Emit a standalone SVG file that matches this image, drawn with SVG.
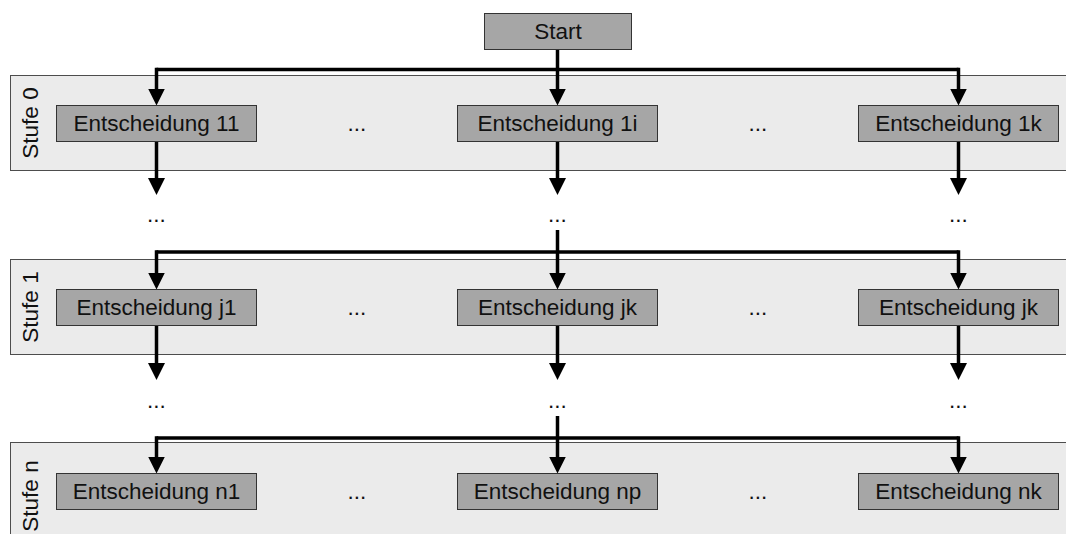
<svg xmlns="http://www.w3.org/2000/svg" width="1066" height="534" viewBox="0 0 1066 534">
  <style>
    .band { fill: #ebebeb; stroke: #4d4d4d; stroke-width: 1; }
    .box { fill: #a6a6a6; stroke: #333333; stroke-width: 1; }
    .lbl { font-family: "Liberation Sans", Arial, sans-serif; font-size: 22.5px; fill: #111111; text-anchor: middle; }
    .wire { fill: none; stroke: #000000; stroke-width: 3.5; stroke-linejoin: miter; }
    .arr { marker-end: url(#head); }
  </style>
  <defs>
    <marker id="head" markerUnits="userSpaceOnUse" markerWidth="17" markerHeight="17" viewBox="0 0 17 17" refX="7" refY="8.5" orient="auto">
      <path d="M0,0 L17,8.5 L0,17 Z" fill="#000000"/>
    </marker>
  </defs>

  <!-- stage bands -->
  <g id="stufe0">
    <rect class="band" x="10.5" y="75.5" width="1060" height="95"/>
    <text class="lbl" transform="translate(38 123) rotate(-90)">Stufe 0</text>
    <text class="lbl" x="357" y="131">...</text>
    <text class="lbl" x="758" y="131">...</text>
  </g>
  <g id="stufe1">
    <rect class="band" x="10.5" y="259.5" width="1060" height="95"/>
    <text class="lbl" transform="translate(38 307) rotate(-90)">Stufe 1</text>
    <text class="lbl" x="357" y="315">...</text>
    <text class="lbl" x="758" y="315">...</text>
  </g>
  <g id="stufen">
    <rect class="band" x="10.5" y="442.5" width="1060" height="100"/>
    <text class="lbl" transform="translate(38 496) rotate(-90)">Stufe n</text>
    <text class="lbl" x="357" y="499">...</text>
    <text class="lbl" x="758" y="499">...</text>
  </g>

  <!-- gap markers between stages -->
  <g id="gaps">
    <text class="lbl" x="156.5" y="222">...</text>
    <text class="lbl" x="557.5" y="222">...</text>
    <text class="lbl" x="958.5" y="222">...</text>
    <text class="lbl" x="156.5" y="408">...</text>
    <text class="lbl" x="557.5" y="408">...</text>
    <text class="lbl" x="958.5" y="408">...</text>
  </g>

  <!-- connectors -->
  <g id="connectors">
    <!-- start fan-out -->
    <path class="wire arr" d="M557.5,49.5 V95.5"/>
    <path class="wire" d="M156.5,69.5 H958.5"/>
    <path class="wire arr" d="M156.5,67.75 V95.5"/>
    <path class="wire arr" d="M958.5,67.75 V95.5"/>
    <!-- stage 0 outputs -->
    <path class="wire arr" d="M156.5,141.5 V185"/>
    <path class="wire arr" d="M557.5,141.5 V185"/>
    <path class="wire arr" d="M958.5,141.5 V185"/>
    <!-- stage 1 fan-out -->
    <path class="wire arr" d="M557.5,230 V279.5"/>
    <path class="wire" d="M156.5,252 H958.5"/>
    <path class="wire arr" d="M156.5,250.25 V279.5"/>
    <path class="wire arr" d="M958.5,250.25 V279.5"/>
    <!-- stage 1 outputs -->
    <path class="wire arr" d="M156.5,325.5 V370"/>
    <path class="wire arr" d="M557.5,325.5 V370"/>
    <path class="wire arr" d="M958.5,325.5 V370"/>
    <!-- stage n fan-out -->
    <path class="wire arr" d="M557.5,416 V463.5"/>
    <path class="wire" d="M156.5,438 H958.5"/>
    <path class="wire arr" d="M156.5,436.25 V463.5"/>
    <path class="wire arr" d="M958.5,436.25 V463.5"/>
  </g>

  <!-- nodes -->
  <g id="start">
    <rect class="box" x="484.5" y="13.5" width="147" height="36"/>
    <text class="lbl" x="558" y="39">Start</text>
  </g>
  <g id="e11">
    <rect class="box" x="56.5" y="105.5" width="200" height="36"/>
    <text class="lbl" x="156.5" y="131">Entscheidung 11</text>
  </g>
  <g id="e1i">
    <rect class="box" x="457.5" y="105.5" width="200" height="36"/>
    <text class="lbl" x="557.5" y="131">Entscheidung 1i</text>
  </g>
  <g id="e1k">
    <rect class="box" x="858.5" y="105.5" width="200" height="36"/>
    <text class="lbl" x="958.5" y="131">Entscheidung 1k</text>
  </g>
  <g id="ej1">
    <rect class="box" x="56.5" y="289.5" width="200" height="36"/>
    <text class="lbl" x="156.5" y="315">Entscheidung j1</text>
  </g>
  <g id="ejk-mid">
    <rect class="box" x="457.5" y="289.5" width="200" height="36"/>
    <text class="lbl" x="557.5" y="315">Entscheidung jk</text>
  </g>
  <g id="ejk-right">
    <rect class="box" x="858.5" y="289.5" width="200" height="36"/>
    <text class="lbl" x="958.5" y="315">Entscheidung jk</text>
  </g>
  <g id="en1">
    <rect class="box" x="56.5" y="473.5" width="200" height="36"/>
    <text class="lbl" x="156.5" y="499">Entscheidung n1</text>
  </g>
  <g id="enp">
    <rect class="box" x="457.5" y="473.5" width="200" height="36"/>
    <text class="lbl" x="557.5" y="499">Entscheidung np</text>
  </g>
  <g id="enk">
    <rect class="box" x="858.5" y="473.5" width="200" height="36"/>
    <text class="lbl" x="958.5" y="499">Entscheidung nk</text>
  </g>
</svg>
